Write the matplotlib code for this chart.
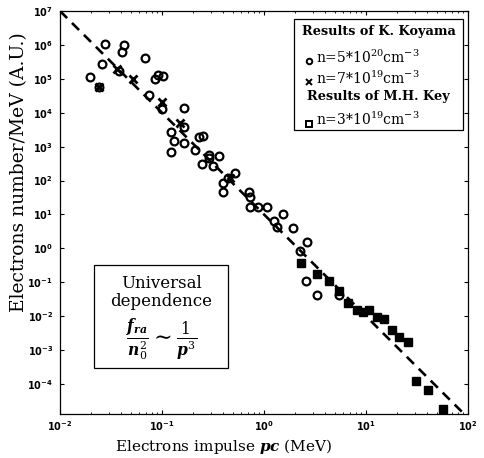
import matplotlib
matplotlib.use("Agg")
import matplotlib.pyplot as plt
from matplotlib.patches import Rectangle

# ---- data ----
koyama_hi_x = [0.0197, 0.0256, 0.0276, 0.0243, 0.0376, 0.0403, 0.0424, 0.0676, 0.074,
               0.085, 0.091, 0.1017, 0.1007, 0.1656, 0.166, 0.1216, 0.131, 0.1216,
               0.1656, 0.211, 0.231, 0.254, 0.245, 0.289, 0.289, 0.365, 0.318, 0.394,
               0.394, 0.447, 0.52, 0.718, 0.73, 0.73, 0.88, 1.06, 1.55, 1.25, 1.35,
               1.94, 2.66, 2.25, 2.58, 3.29, 5.47]
koyama_hi_y = [1.1e5, 2.7e5, 1.1e6, 5.6e4, 1.7e5, 6.3e5, 9.7e5, 4.2e5, 3.3e4,
               1.0e5, 1.3e5, 1.2e5, 1.25e4, 1.35e4, 3.7e3, 2.75e3, 1.5e3, 680,
               1.25e3, 790, 1.87e3, 2.1e3, 300, 550, 470, 520, 275, 45,
               83, 115, 162, 47, 33, 17, 17, 17, 10, 6.5, 4.3,
               4.0, 1.5, 0.85, 0.11, 0.042, 0.042]

koyama_lo_x = [0.0243, 0.0365, 0.0516, 0.099, 0.15, 0.46]
koyama_lo_y = [5.6e4, 2.0e5, 9.7e4, 2.1e4, 4.9e3, 120]

key_x = [2.29, 3.33, 4.33, 5.47, 6.6, 8.1, 9.3, 10.8, 12.7, 15, 17.9, 21.2, 25.7,
         31, 40.8, 56.5]
key_y = [0.38, 0.18, 0.11, 0.056, 0.024, 0.015, 0.0135, 0.015, 0.0092, 0.0081,
         0.0039, 0.0025, 0.0017, 1.25e-4, 6.6e-5, 1.8e-5]

fit_x = [0.01, 100]
fit_y = [1e7, 1e-5]

legend_head1 = "Results of K. Koyama"
legend_lab1 = r"n=5*10$^{20}$cm$^{-3}$"
legend_lab2 = r"n=7*10$^{19}$cm$^{-3}$"
legend_head2 = "Results of M.H. Key"
legend_lab3 = r"n=3*10$^{19}$cm$^{-3}$"

# ---- style ----
plt.rcParams['font.family'] = ['DejaVu Serif', 'DejaVu Sans']
plt.rcParams['mathtext.fontset'] = 'custom'
plt.rcParams['mathtext.rm'] = 'DejaVu Serif'
plt.rcParams['mathtext.it'] = 'DejaVu Serif:italic'
plt.rcParams['mathtext.bf'] = 'DejaVu Serif:bold:italic'

fig = plt.figure(figsize=(4.84, 4.58), dpi=100)
ax = fig.add_axes([60/484, 1-414/458, 408/484, 403/458])

ax.plot(fit_x, fit_y, color='black', lw=1.9, dashes=(3.8, 2.6), zorder=2)
ax.plot(koyama_hi_x, koyama_hi_y, ls='none', marker='o', ms=5.6, mfc='none',
        mec='black', mew=1.6, zorder=3)
ax.plot(koyama_lo_x, koyama_lo_y, ls='none', marker='x', ms=6, mec='black',
        mew=2.0, zorder=3)
ax.plot(key_x, key_y, ls='none', marker='s', ms=6.2, mfc='black', mec='black',
        zorder=3)

ax.set_xscale('log')
ax.set_yscale('log')
ax.set_xlim(1e-2, 1e2)
ax.set_ylim(1.3e-5, 1e7)
ax.set_xticks([1e-2, 1e-1, 1e0, 1e1, 1e2])
ax.set_yticks([1e-4, 1e-3, 1e-2, 1e-1, 1e0, 1e1, 1e2, 1e3, 1e4, 1e5, 1e6, 1e7])
ax.tick_params(which='both', direction='in', top=True, right=True)
ax.tick_params(which='major', length=3, width=0.8)
ax.tick_params(which='minor', length=1.5, width=0.6)
ax.tick_params(axis='x', labelsize=7, pad=4)
ax.tick_params(axis='y', labelsize=7, pad=5)
for lab in ax.get_xticklabels() + ax.get_yticklabels():
    lab.set_fontfamily('DejaVu Sans')
    lab.set_fontweight('bold')
for sp in ax.spines.values():
    sp.set_linewidth(0.9)

ax.set_xlabel(r"Electrons impulse $\mathbf{pc}$ (MeV)", fontsize=11)
ax.xaxis.set_label_coords(0.40, -0.057)
ax.set_ylabel("Electrons number/MeV (A.U.)", fontsize=13.5)
ax.yaxis.set_label_coords(-0.078, 0.60)

# legend box (manual layout as in the reference)
ax.add_patch(Rectangle((0.574, 0.705), 0.414, 0.275, transform=ax.transAxes,
                       fill=True, facecolor='white', edgecolor='black', lw=0.9, zorder=4))
ax.text(0.781, 0.948, legend_head1, transform=ax.transAxes, ha='center', va='center',
        fontsize=9.3, fontweight='bold', zorder=5)
ax.text(0.781, 0.789, legend_head2, transform=ax.transAxes, ha='center', va='center',
        fontsize=9.3, fontweight='bold', zorder=5)
for yy, lab, mk in [(0.886, legend_lab1, 'o'), (0.834, legend_lab2, 'x'), (0.730, legend_lab3, 's')]:
    ax.plot([0.61], [yy - 0.01], transform=ax.transAxes, marker=mk, ms=4,
            mfc='none', mec='black', mew=1.4, ls='none', zorder=5, clip_on=False)
    ax.text(0.627, yy, lab, transform=ax.transAxes, ha='left', va='center',
            fontsize=10, zorder=5)

# annotation box
ax.add_patch(Rectangle((0.083, 0.114), 0.329, 0.256, transform=ax.transAxes,
                       fill=True, facecolor='white', edgecolor='black', lw=0.9, zorder=4))
ax.text(0.248, 0.325, "Universal", transform=ax.transAxes, ha='center', va='center',
        fontsize=12, zorder=5)
ax.text(0.248, 0.278, "dependence", transform=ax.transAxes, ha='center', va='center',
        fontsize=12, zorder=5)
ax.text(0.248, 0.184, r"$\frac{\mathbf{f}_{\mathbf{ra}}}{\mathbf{n}_0^2}\sim\frac{1}{\mathbf{p}^3}$",
        transform=ax.transAxes, ha='center', va='center', fontsize=16, zorder=5)

fig.savefig("out.png", dpi=100)
